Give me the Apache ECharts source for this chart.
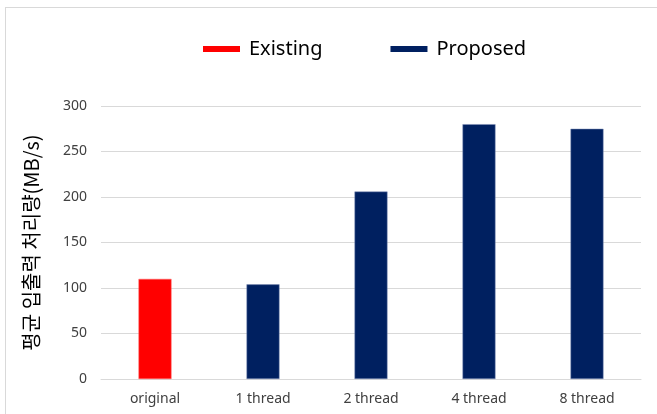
<!DOCTYPE html>
<html>
<head>
<meta charset="utf-8">
<script src="https://cdn.jsdelivr.net/npm/echarts@6/dist/echarts.min.js"></script>
<style>
  html, body { margin: 0; padding: 0; background: #fff; }
  #frame { position: absolute; left: 5px; top: 7px; width: 660px; height: 420px; border: 1px solid #d9d9d9; }
  #chart { position: absolute; left: 0; top: 0; width: 657px; height: 414px; }
</style>
</head>
<body>
<div id="frame"></div>
<div id="chart"></div>
<script>
const categories = ['original', '1 thread', '2 thread', '4 thread', '8 thread'];
const existingValues = [110, '-', '-', '-', '-'];
const proposedValues = ['-', 104, 206, 280, 275];
const yTicks = { min: 0, max: 300, interval: 50 };

const chart = echarts.init(document.getElementById('chart'));
const font = '"Noto Sans", "Open Sans", sans-serif';

let option = {
  animation: false,
  legend: {
    top: 34,
    left: 198,
    itemWidth: 37,
    itemHeight: 6,
    itemGap: 68,
    icon: 'rect',
    itemStyle: { borderWidth: 0 },
    textStyle: { fontSize: 20, color: '#000', fontFamily: font, padding: [0, 0, 0, 4] },
    data: ['Existing', 'Proposed']
  },
  grid: { left: 101, right: 16, top: 106, bottom: 35, containLabel: false },
  xAxis: {
    type: 'category',
    data: categories,
    axisLine: { lineStyle: { color: '#d9d9d9' } },
    axisTick: { show: false },
    axisLabel: { fontSize: 14, color: '#404040', fontFamily: font, margin: 13 }
  },
  yAxis: {
    type: 'value',
    min: yTicks.min,
    max: yTicks.max,
    interval: yTicks.interval,
    name: '평균 입출력 처리량(MB/s)',
    nameLocation: 'middle',
    nameGap: 60,
    nameTextStyle: { fontSize: 20, color: '#000', fontFamily: '"Noto Sans CJK KR", sans-serif' },
    axisLine: { show: false },
    axisTick: { show: false },
    splitLine: { lineStyle: { color: '#d9d9d9' } },
    axisLabel: { fontSize: 14, color: '#404040', fontFamily: font, margin: 14 }
  },
  series: [
    {
      name: 'Existing',
      type: 'bar',
      barWidth: 33,
      barGap: '-100%',
      data: existingValues,
      itemStyle: { color: '#ff0000', borderColor: '#ff6666', borderWidth: 0.5 }
    },
    {
      name: 'Proposed',
      type: 'bar',
      barWidth: 33,
      data: proposedValues,
      itemStyle: { color: '#002060', borderColor: '#8090b8', borderWidth: 0.5 }
    }
  ]
};
chart.setOption(option);
</script>
</body>
</html>
